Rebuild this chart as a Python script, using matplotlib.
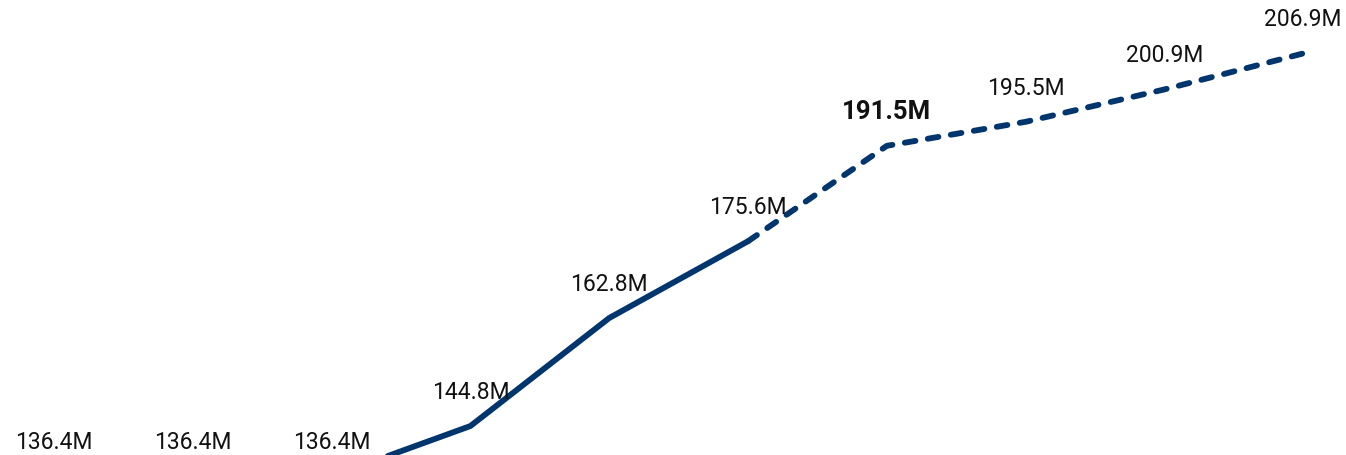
import numpy as np
import matplotlib.pyplot as plt

# yearly values (millions); the first six are actuals, the rest forecast
values = [136.4, 136.4, 136.4, 144.8, 162.8, 175.6, 191.5, 195.5, 200.9, 206.9]
labels = ["136.4M", "136.4M", "136.4M", "144.8M", "162.8M", "175.6M",
          "191.5M", "195.5M", "200.9M", "206.9M"]
last_actual = 5      # solid line ends here
highlight = 6        # bold label

color = "#00356d"
plt.rcParams['font.family'] = ['Roboto', 'DejaVu Sans']

fig = plt.figure(figsize=(13.46, 4.56), dpi=100)
ax = fig.add_axes([0, 0, 1, 1])
ax.axis('off')

x = np.arange(len(values))
ax.plot(x[:last_actual + 1], values[:last_actual + 1], color=color, lw=4.2,
        solid_capstyle='round', solid_joinstyle='round')
dashed, = ax.plot(x[last_actual:], values[last_actual:], color=color, lw=4.2,
                  dash_capstyle='round', dash_joinstyle='round')
dashed.set_dashes((1.85, 2.15))

for i, (v, lab) in enumerate(zip(values, labels)):
    bold = i == highlight
    ax.annotate(lab, (x[i], v), xytext=(0, 25), textcoords='offset points',
                ha='center', va='center', fontsize=18.5 if bold else 16.5,
                color='#111111', fontweight='bold' if bold else 'normal',
                annotation_clip=False)

ax.set_xlim(-0.389, 9.308)
ax.set_ylim(139.97, 215.97)

fig.savefig("out.png", dpi=100)
